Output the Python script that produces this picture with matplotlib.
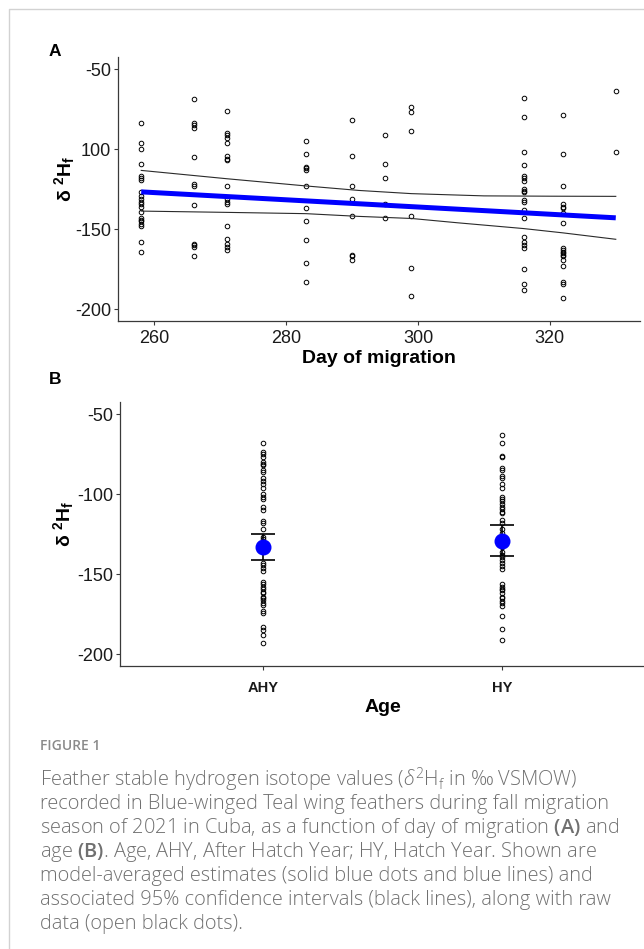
import numpy as np
import matplotlib
matplotlib.use("Agg")
import matplotlib.pyplot as plt
from matplotlib.lines import Line2D

plt.rcParams.update({
    "font.family": ["Liberation Sans", "DejaVu Sans"],
    "axes.unicode_minus": False,
    "mathtext.fontset": "custom",
    "mathtext.rm": "Open Sans:light",
    "mathtext.it": "Open Sans:italic:light",
    "mathtext.bf": "Open Sans:semibold",
    "mathtext.sf": "Liberation Sans:bold",
})

# ---- panel A: raw data by day of migration ----
day_cols = [258, 266, 271, 283, 290, 295, 299, 316, 322, 330]
d2h_by_day = [
    [-84, -96, -100, -109, -117, -118, -119, -127, -129, -131, -133, -134, -136,
     -139, -143, -144, -145, -147, -148, -158, -164],
    [-69, -84, -85, -87, -105, -122, -123, -135, -159, -160, -161, -167],
    [-76, -90, -91, -93, -96, -104, -106, -107, -123, -131, -133, -134, -148,
     -156, -159, -161, -163],
    [-95, -103, -111, -112, -113, -123, -137, -145, -157, -171, -183],
    [-82, -104, -123, -131, -142, -166, -167, -169],
    [-91, -109, -118, -134, -143],
    [-74, -77, -89, -142, -174, -192],
    [-68, -80, -102, -110, -117, -118, -120, -125, -126, -127, -132, -133, -138,
     -143, -155, -158, -160, -162, -175, -184, -188],
    [-79, -103, -123, -134, -136, -137, -140, -146, -162, -163, -164, -165, -166,
     -167, -169, -173, -183, -184, -193],
    [-64, -102],
]

# model-averaged fit and 95% CI
fit_days = [258, 330]
fit_d2h = [-126.7, -142.9]
ci_up_days = [258, 271, 283, 291, 299, 310, 320, 330]
ci_up = [-113.3, -118.5, -123.0, -125.8, -127.8, -129.2, -129.4, -129.5]
ci_lo_days = [258, 271, 283, 291, 299, 306, 316, 322, 330]
ci_lo = [-138.7, -139.5, -140.3, -142.0, -143.3, -146.0, -149.6, -152.3, -156.3]

day_ticks = [260, 280, 300, 320]
a_yticks = [-50, -100, -150, -200]
a_yticklabels = ["-50", "100", "-150", "-200"]

# ---- panel B: by age ----
ages = ["AHY", "HY"]
ahy_d2h = [-68, -74, -75, -77, -80, -81, -82, -85, -86, -90, -92, -94, -96, -100,
           -102, -103, -108, -110, -117, -118, -122, -127, -128, -143, -144, -146,
           -148, -155, -156, -158, -159, -161, -162, -164, -165, -166, -168, -169,
           -173, -174, -183, -185, -188, -193]
hy_d2h = [-63, -68, -76, -77, -84, -85, -89, -90, -94, -96, -102, -103, -104, -106,
          -108, -109, -111, -112, -116, -118, -122, -124, -127, -133, -136, -138,
          -139, -141, -143, -145, -147, -156, -158, -159, -160, -162, -164, -165,
          -167, -168, -170, -176, -184, -191]
age_est = [-133.3, -129.4]
age_lo = [-141.4, -138.5]
age_hi = [-125.2, -119.4]
b_yticks = [-50, -100, -150, -200]
b_yticklabels = ["-50", "-100", "-150", "-200"]

caption_head = "FIGURE 1"
caption_lines = [
    r"Feather stable hydrogen isotope values ($\mathit{δ}^{2}$H$_{\mathrm{f}}$ in ‰ VSMOW)",
    "recorded in Blue-winged Teal wing feathers during fall migration",
    r"season of 2021 in Cuba, as a function of day of migration $\mathbf{(A)}$ and",
    r"age $\mathbf{(B)}$. Age, AHY, After Hatch Year; HY, Hatch Year. Shown are",
    "model-averaged estimates (solid blue dots and blue lines) and",
    "associated 95% confidence intervals (black lines), along with raw",
    "data (open black dots).",
]

W, H = 644, 949
fig = plt.figure(figsize=(W / 100, H / 100), dpi=100)


def add_axes_px(left, top, right, bottom):
    return fig.add_axes([left / W, 1 - bottom / H, (right - left) / W, (bottom - top) / H])


def fig_text(x, y, s, **kw):
    return fig.text(x / W, 1 - y / H, s, **kw)


def style_axes(ax):
    for side in ("top", "right"):
        ax.spines[side].set_visible(False)
    for side in ("left", "bottom"):
        ax.spines[side].set_color("#3a3a3a")
        ax.spines[side].set_linewidth(0.9)
    ax.tick_params(length=2.6, width=0.8, color="#3a3a3a", labelcolor="#1a1a1a",
                   labelsize=13, pad=2)
    ax.set_ylim(-207.5, -42.5)


open_pts = dict(marker="o", linestyle="none", ms=3.3, mfc="none", mec="black", mew=0.7)
ylab = r"$\mathsf{δ\ {}^{2}H_{f}}$"

# panel A
axA = add_axes_px(117.5, 57, 639.5, 321.3)
style_axes(axA)
xs = np.concatenate([[d] * len(v) for d, v in zip(day_cols, d2h_by_day)])
ys = np.concatenate(d2h_by_day)
axA.plot(xs, ys, zorder=2, **open_pts)
axA.plot(ci_up_days, ci_up, color="#2a2a2a", lw=0.8, zorder=3)
axA.plot(ci_lo_days, ci_lo, color="#2a2a2a", lw=0.8, zorder=3)
axA.plot(fit_days, fit_d2h, color="#0000ff", lw=3.6, solid_capstyle="butt", zorder=4)
axA.set_xlim(254.4, 333.6)
axA.set_xticks(day_ticks)
axA.tick_params(axis="x", pad=4)
axA.set_yticks(a_yticks)
axA.set_yticklabels(a_yticklabels)
axA.set_xlabel("Day of migration", fontsize=14, fontweight="bold", labelpad=2)
axA.set_ylabel(ylab, fontsize=14)
axA.yaxis.set_label_coords(-0.077, 0.54)

# panel B
axB = add_axes_px(119.6, 402, 645.4, 666.3)
style_axes(axB)
pos = np.arange(1, len(ages) + 1)
for p, vals in zip(pos, [ahy_d2h, hy_d2h]):
    axB.plot([p] * len(vals), vals, zorder=2, **open_pts)
est = np.array(age_est)
axB.errorbar(pos, est, yerr=[est - np.array(age_lo), np.array(age_hi) - est], fmt="none",
             ecolor="black", elinewidth=1.2, capsize=8.3, capthick=1.2, zorder=3)
axB.plot(pos, est, "o", ms=10.5, color="#0000ff", mec="#0000ff", zorder=4)
axB.set_xlim(0.4, 2.6)
axB.set_xticks(pos)
axB.set_xticklabels(ages, fontsize=10.5, fontweight="bold")
axB.tick_params(axis="x", pad=8)
axB.set_yticks(b_yticks)
axB.set_yticklabels(b_yticklabels)
axB.set_xlabel("Age", fontsize=14, fontweight="bold", labelpad=3)
axB.set_ylabel(ylab, fontsize=14)
axB.yaxis.set_label_coords(-0.082, 0.54)

# panel letters
fig_text(55, 52, "A", fontsize=12.5, fontweight="bold", ha="center", va="center")
fig_text(55, 380, "B", fontsize=12.5, fontweight="bold", ha="center", va="center")

# page frame
fig.add_artist(Line2D([8.5 / W, 8.5 / W, 1], [0, 1 - 9 / H, 1 - 9 / H],
                      transform=fig.transFigure, color="#d2d2d2", lw=1))

# caption
fig_text(40, 746, caption_head, fontsize=10, color="#8a8a8a", family="Open Sans",
         fontweight="semibold", va="center")
for i, line in enumerate(caption_lines):
    fig_text(40, 780 + 24 * i, line, fontsize=14.4, color="#707070", family="Open Sans",
             fontweight="light", va="center")

fig.savefig("out.png", dpi=100)
